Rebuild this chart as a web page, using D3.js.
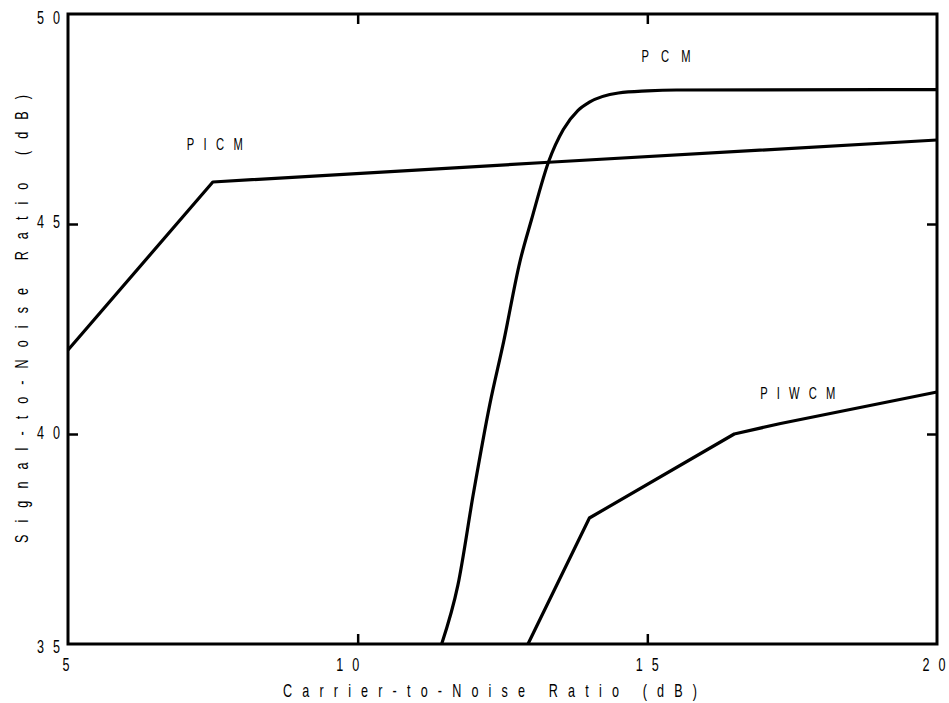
<!DOCTYPE html>
<html>
<head>
<meta charset="utf-8">
<script src="https://cdn.jsdelivr.net/npm/d3@7"></script>
<style>
  html, body { margin: 0; padding: 0; background: #fff; }
  svg text { font-family: "Liberation Sans", Arial, sans-serif; fill: #000; }
</style>
</head>
<body>
<svg id="chart" width="949" height="703"></svg>
<script>
// ---- data ----
const xTicks = [5, 10, 15, 20];
const yTicks = [35, 40, 45, 50];
const xTitle = "Carrier-to-Noise Ratio (dB)";
const yTitle = "Signal-to-Noise Ratio (dB)";

const picmX = [5, 7.5, 13.3, 20];
const picmY = [42.0, 46.0, 46.47, 47.0];

const pcmX = [11.45, 11.73, 12.0, 12.28, 12.52, 12.8, 13.0, 13.3, 13.55, 13.8, 14.0, 14.5, 15.0, 15.5, 20];
const pcmY = [35.0, 36.4, 38.6, 40.7, 42.2, 44.1, 45.1, 46.5, 47.25, 47.7, 47.9, 48.12, 48.17, 48.19, 48.2];

const piwcmX = [12.94, 14.0, 16.5, 17.3, 20];
const piwcmY = [35.0, 38.0, 40.0, 40.25, 41.0];

const seriesNames = ["PICM", "PCM", "PIWCM"];
const labelPos = [[7.05, 46.76], [14.9, 48.86], [16.95, 40.83]];

// ---- layout ----
const svg = d3.select("#chart");
const L = 68, R = 937, T = 14, B = 644;
const x = d3.scaleLinear().domain([5, 20]).range([L, R]);
const y = d3.scaleLinear().domain([35, 50]).range([B, T]);
const SX = 0.7; // condensed plotter-style lettering

function ctext(px, py, str, opt) {
  const g = svg.append("g").attr("transform", `translate(${px},${py}) scale(${SX},1)`);
  const t = g.append("text").attr("x", 0).attr("y", 0)
    .attr("font-size", opt.size || 17)
    .attr("text-anchor", opt.anchor || "start")
    .text(str);
  if (opt.len) t.attr("textLength", opt.len / SX).attr("lengthAdjust", "spacing");
  return g;
}

// ticks (inward) on all four sides
const tickLen = 10;
const inner = [40, 45];
const innerX = [10, 15];
const g = svg.append("g");
const ax = [
  d3.axisLeft(y).tickValues(inner).tickSize(-tickLen).tickFormat(""),
  d3.axisRight(y).tickValues(inner).tickSize(-tickLen).tickFormat(""),
  d3.axisBottom(x).tickValues(innerX).tickSize(-tickLen).tickFormat(""),
  d3.axisTop(x).tickValues(innerX).tickSize(-tickLen).tickFormat("")
];
const tr = [`translate(${L},0)`, `translate(${R},0)`, `translate(0,${B})`, `translate(0,${T})`];
ax.forEach((a, i) => {
  const gg = g.append("g").attr("transform", tr[i]).call(a);
  gg.select(".domain").remove();
  gg.selectAll(".tick line").attr("stroke", "#000").attr("stroke-width", 2.5);
});

// frame
svg.append("rect").attr("x", L).attr("y", T).attr("width", R - L).attr("height", B - T)
  .attr("fill", "none").attr("stroke", "#000").attr("stroke-width", 3);

// tick labels
const yNudge = {35: 9, 40: 5, 45: 4, 50: 10};
yTicks.forEach(d => {
  ctext(37, y(d) + yNudge[d], String(d), {size: 18, len: 23});
});
const xNudge = {5: -1.5, 10: -10, 15: 0, 20: -3};
xTicks.forEach(d => {
  const w = String(d).length > 1 ? 23 : 8;
  const cx = x(d) + xNudge[d];
  ctext(cx - w / 2, 671, String(d), {size: 18, len: w});
});

// axis titles
ctext(283, 697, xTitle, {size: 18, len: 414});
svg.append("g").attr("transform", "translate(28,543) rotate(-90)")
  .append("g").attr("transform", `scale(${SX},1)`)
  .append("text").attr("font-size", 18)
  .attr("textLength", 448 / SX).attr("lengthAdjust", "spacing")
  .text(yTitle);

// curves
const line = d3.line().x(d => x(d[0])).y(d => y(d[1]));
const smooth = d3.line().x(d => x(d[0])).y(d => y(d[1])).curve(d3.curveMonotoneX);
const zip = (a, b) => a.map((v, i) => [v, b[i]]);
[[zip(picmX, picmY), line], [zip(pcmX, pcmY), smooth], [zip(piwcmX, piwcmY), line]].forEach(([data, gen]) => {
  svg.append("path").datum(data).attr("d", gen)
    .attr("fill", "none").attr("stroke", "#000").attr("stroke-width", 3.2)
    .attr("stroke-linejoin", "round");
});

// series labels
const labelW = [56, 49, 75];
seriesNames.forEach((d, i) => {
  ctext(x(labelPos[i][0]), y(labelPos[i][1]), d, {size: 16, len: labelW[i]});
});
</script>
</body>
</html>
